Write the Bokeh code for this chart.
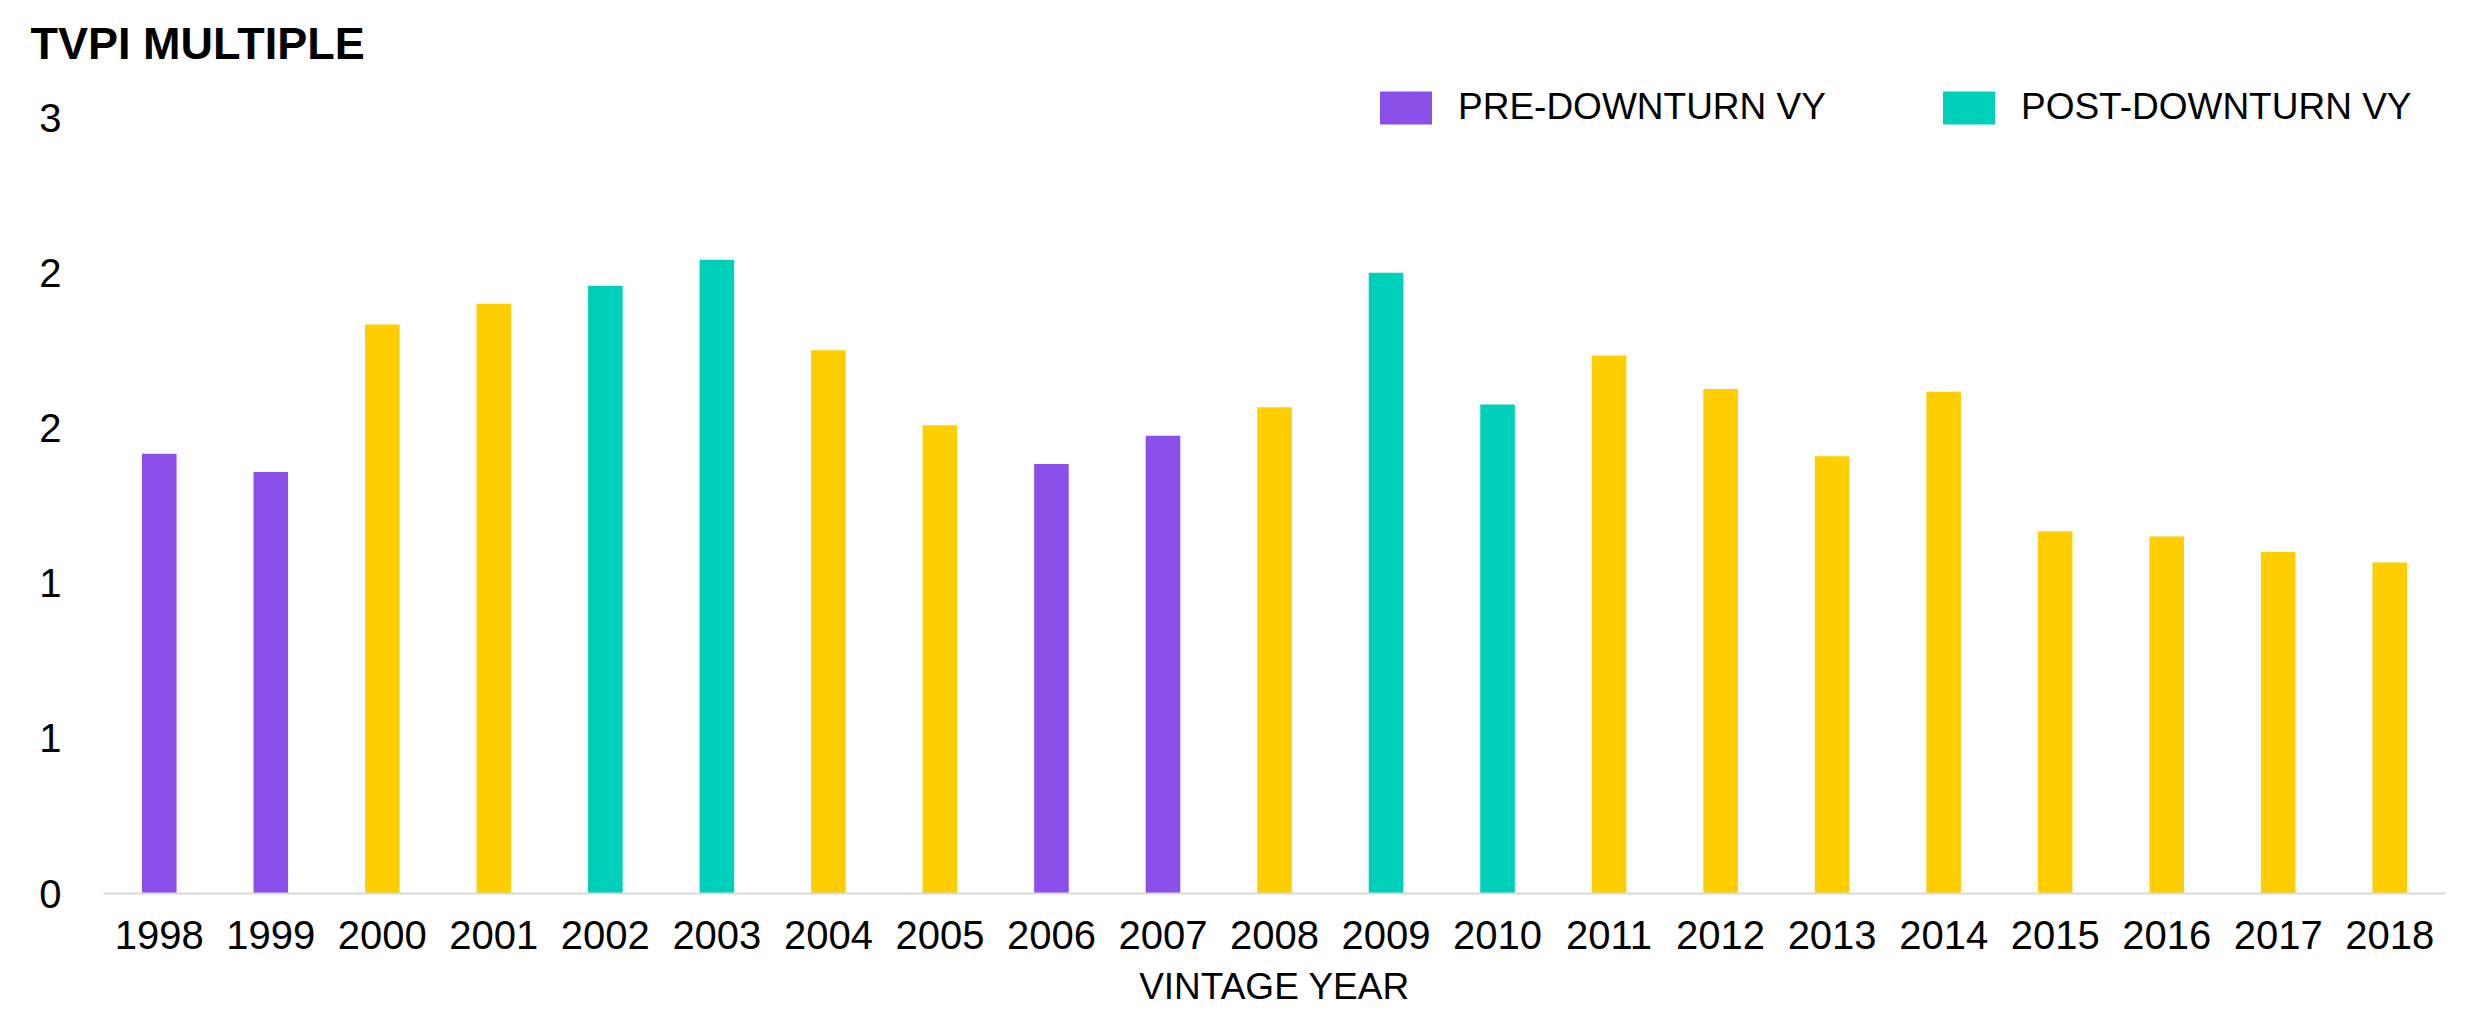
from bokeh.plotting import figure
from bokeh.models import ColumnDataSource, FixedTicker, Range1d, Legend, LegendItem, FactorRange
from bokeh.embed import file_html
from bokeh.resources import INLINE

# ---- data ----
years = ["1998", "1999", "2000", "2001", "2002", "2003", "2004", "2005", "2006", "2007",
         "2008", "2009", "2010", "2011", "2012", "2013", "2014", "2015", "2016", "2017", "2018"]
tvpi = [1.70, 1.63, 2.20, 2.28, 2.35, 2.45, 2.10, 1.81, 1.66, 1.77,
        1.88, 2.40, 1.89, 2.08, 1.95, 1.69, 1.94, 1.40, 1.38, 1.32, 1.28]
group = ["pre", "pre", "other", "other", "post", "post", "other", "other", "pre", "pre",
         "other", "post", "post", "other", "other", "other", "other", "other", "other", "other", "other"]
y_tick_values = [0, 0.6, 1.2, 1.8, 2.4, 3.0]
y_tick_labels = ["0", "1", "1", "2", "2", "3"]
legend_labels = {"pre": "PRE-DOWNTURN VY", "post": "POST-DOWNTURN VY"}
colors = {"pre": "#8C50EA", "post": "#00CFBA", "other": "#FFCE00"}

FONT = "Liberation Sans"

p = figure(x_range=FactorRange(*years), y_range=Range1d(0, 3.116),
           width=2475, height=1010, output_backend="svg", toolbar_location=None,
           min_border_left=103, min_border_right=30, min_border_top=87, min_border_bottom=117)
p.outline_line_color = None
p.xgrid.grid_line_color = None
p.ygrid.grid_line_color = None

renderers = {}
for g in ["pre", "post", "other"]:
    xs = [y for y, gg in zip(years, group) if gg == g]
    tops = [v for v, gg in zip(tvpi, group) if gg == g]
    src = ColumnDataSource(dict(x=xs, top=tops))
    renderers[g] = p.vbar(x="x", top="top", width=0.31, source=src,
                          fill_color=colors[g], line_color=None)

# title
p.title.text = "TVPI MULTIPLE"
p.title.text_font = FONT
p.title.text_font_style = "bold"
p.title.text_font_size = "45px"
p.title.text_color = "#000000"
p.title.align = "left"
p.title.vertical_align = "top"
p.title.offset = -73
p.title.standoff = 34

# axes
xa = p.xaxis[0]
xa.axis_line_color = "#d9d9d9"
xa.axis_line_width = 2
xa.major_tick_line_color = None
xa.minor_tick_line_color = None
xa.major_tick_out = 0
xa.major_tick_in = 0
xa.major_label_standoff = 27
xa.major_label_text_font = FONT
xa.major_label_text_font_size = "40px"
xa.major_label_text_color = "#000000"
xa.axis_label = "VINTAGE YEAR"
xa.axis_label_text_font = FONT
xa.axis_label_text_font_style = "normal"
xa.axis_label_text_font_size = "37px"
xa.axis_label_text_color = "#000000"
xa.axis_label_standoff = 14

ya = p.yaxis[0]
ya.ticker = FixedTicker(ticks=y_tick_values)
ya.major_label_overrides = {v: l for v, l in zip(y_tick_values, y_tick_labels)}
ya.axis_line_color = None
ya.major_tick_line_color = None
ya.minor_tick_line_color = None
ya.major_tick_out = 0
ya.major_tick_in = 0
ya.major_label_standoff = 42
ya.major_label_text_font = FONT
ya.major_label_text_font_size = "40px"
ya.major_label_text_color = "#000000"

legend = Legend(items=[LegendItem(label=legend_labels["pre"], renderers=[renderers["pre"]]),
                       LegendItem(label=legend_labels["post"], renderers=[renderers["post"]])],
                orientation="horizontal", location=(1270, 765),
                glyph_width=65, glyph_height=41, label_height=41, label_standoff=20,
                spacing=110, padding=0, margin=0,
                border_line_color=None, background_fill_alpha=0,
                label_text_font=FONT, label_text_font_size="37px", label_text_color="#000000")
p.add_layout(legend)

open("out.html", "w").write(file_html(p, INLINE))
